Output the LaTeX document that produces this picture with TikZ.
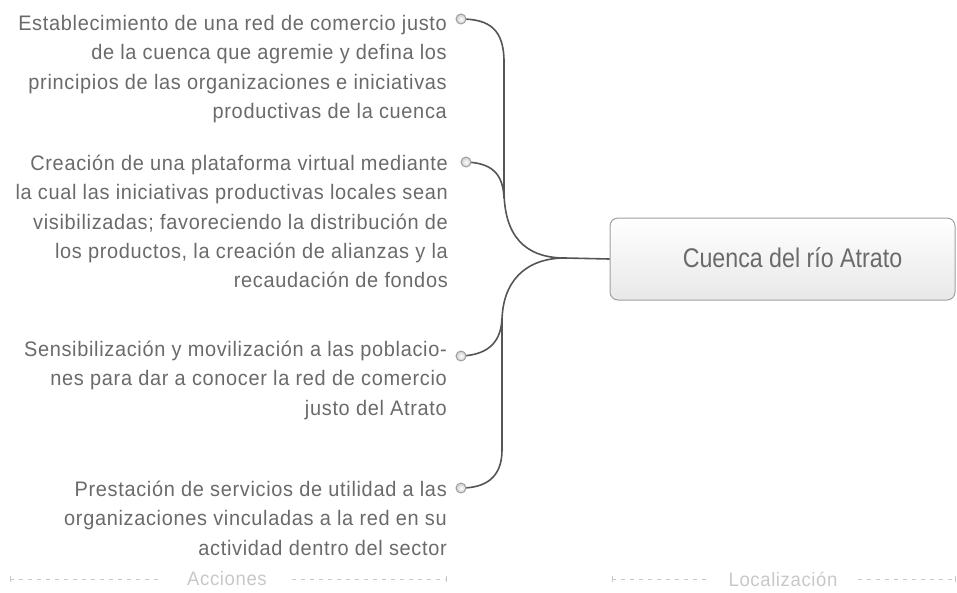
\documentclass[tikz,border=0pt]{standalone}
\usepackage{fontspec}
\setmainfont{Liberation Sans}[FakeStretch=0.95, LetterSpace=3.2]
\newfontfamily\hubfont{Liberation Sans}[FakeStretch=0.86]
\definecolor{txt}{HTML}{6A6A6A}
\definecolor{wire}{HTML}{555555}
\definecolor{faint}{HTML}{C8C8C8}
\tikzset{
  item/.style={anchor=north east, inner sep=0pt, align=right, text=txt,
    font=\fontsize{21}{29.3}\selectfont},
  dot/.style={circle, inner sep=0pt, minimum size=10pt, draw=gray!75, line width=1pt,
    inner color=white, outer color=gray!40},
  wirestyle/.style={draw=wire, line width=1.6pt},
  hub/.style={rounded corners=8pt, draw=gray!75, line width=1pt, top color=white,
    bottom color=gray!18, minimum width=345pt, minimum height=82pt,
    text=txt, font=\hubfont\fontsize{27}{30}\selectfont},
  foot/.style={text=faint, font=\fontsize{19.5}{22}\selectfont, inner sep=0pt},
  footline/.style={draw=faint, line width=0.8pt, dash pattern=on 4pt off 5pt},
  tick/.style={draw=faint, line width=0.8pt}
}
\begin{document}
\begin{tikzpicture}[x=1pt,y=-1pt]
\useasboundingbox (0,0) rectangle (957,592);
\node[item] (t1) at (447,15) {Establecimiento de una red de comercio justo\\de la cuenca que agremie y defina los\\principios de las organizaciones e iniciativas\\productivas de la cuenca};
\node[item] (t2) at (448,155) {Creación de una plataforma virtual mediante\\la cual las iniciativas productivas locales sean\\visibilizadas; favoreciendo la distribución de\\los productos, la creación de alianzas y la\\recaudación de fondos};
\node[item] (t3) at (447,341) {Sensibilización y movilización a las poblacio-\\nes para dar a conocer la red de comercio\\justo del Atrato};
\node[item] (t4) at (447,481) {Prestación de servicios de utilidad a las\\organizaciones vinculadas a la red en su\\actividad dentro del sector};

\node[hub] (hub) at (782.5,259) {\hspace{20pt}\raisebox{2pt}{Cuenca del río Atrato}};

\coordinate (j) at (565,258);
\coordinate (jt) at (504,190);
\coordinate (jb) at (502,322);

\path[wirestyle] (hub.west) -- (j);
\path[wirestyle] (j) .. controls (525,258) and (504,236) .. (jt);
\path[wirestyle] (jt) -- (504,62);
\path[wirestyle] (504,62) .. controls (504,30) and (490,19) .. (461,19);
\path[wirestyle] (466,162) .. controls (490,163) and (503,172) .. (504,198);
\path[wirestyle] (j) .. controls (525,258) and (502,282) .. (jb);
\path[wirestyle] (jb) -- (502,450);
\path[wirestyle] (502,450) .. controls (502,478) and (485,488) .. (461,488);
\path[wirestyle] (461,356) .. controls (485,355) and (501,345) .. (502,318);

\node[dot] (d1) at (461,19) {};
\node[dot] (d2) at (466,162) {};
\node[dot] (d3) at (461,356) {};
\node[dot] (d4) at (461,488) {};

\node[foot] (f1) at (227,579) {Acciones};
\node[foot] (f2) at (783,579) {Localización};
\coordinate (a1) at (10,579); \coordinate (a2) at (160,579);
\coordinate (a3) at (292,579); \coordinate (a4) at (446,579);
\coordinate (b1) at (612,579); \coordinate (b2) at (710,579);
\coordinate (b3) at (858,579); \coordinate (b4) at (955,579);
\draw[footline] (a1) -- (a2);
\draw[footline] (a3) -- (a4);
\draw[footline] (b1) -- (b2);
\draw[footline] (b3) -- (b4);
\draw[tick] (a1) ++(0,-3) -- ++(0,6);
\draw[tick] (a4) ++(0,-3) -- ++(0,6);
\draw[tick] (b1) ++(0,-3) -- ++(0,6);
\draw[tick] (b4) ++(0,-3) -- ++(0,6);
\end{tikzpicture}
\end{document}
